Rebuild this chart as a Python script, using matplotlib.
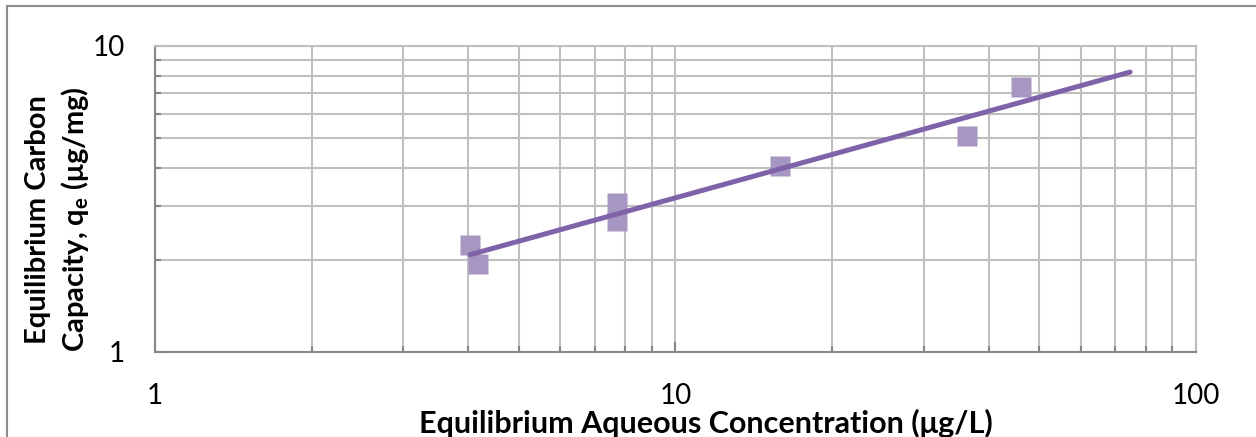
import numpy as np
import matplotlib.pyplot as plt
from matplotlib.lines import Line2D
from matplotlib.ticker import LogLocator, NullFormatter, FixedLocator, FixedFormatter

plt.rcParams["font.family"] = ["Lato", "DejaVu Sans"]
plt.rcParams["mathtext.fontset"] = "custom"
plt.rcParams["mathtext.rm"] = "Lato"
plt.rcParams["mathtext.bf"] = "Lato:bold"

# isotherm measurements
conc = [4.03, 4.17, 7.72, 7.72, 15.9, 36.3, 46.1]       # ug/L
capacity = [2.23, 1.94, 3.08, 2.67, 4.04, 5.07, 7.34]   # ug/mg

# power-law trendline end points
trend_x = [4.03, 74.7]
trend_y = [2.08, 8.22]

marker_col = "#A597C1"
line_col = "#7F62A8"
grid_col = "#BFBFBF"
spine_col = "#878787"

fig = plt.figure(figsize=(12.56, 4.37), dpi=100)
ax = fig.add_axes([155 / 1256, 1 - 352 / 437, (1196 - 155) / 1256, (352 - 46) / 437])

ax.set_xscale("log")
ax.set_yscale("log")
ax.set_xlim(1, 100)
ax.set_ylim(1, 10)

ax.plot(conc, capacity, "s", ms=14.5, color=marker_col, mec="none", zorder=3)
ax.plot(trend_x, trend_y, "-", lw=3.6, color=line_col, solid_capstyle="round", zorder=4)

ax.xaxis.set_major_locator(FixedLocator([1, 10, 100]))
ax.xaxis.set_major_formatter(FixedFormatter(["1", "10", "100"]))
ax.yaxis.set_major_locator(FixedLocator([1, 10]))
ax.yaxis.set_major_formatter(FixedFormatter(["1", "10"]))
ax.xaxis.set_minor_locator(LogLocator(base=10, subs=np.arange(2, 10)))
ax.yaxis.set_minor_locator(LogLocator(base=10, subs=np.arange(2, 10)))
ax.xaxis.set_minor_formatter(NullFormatter())
ax.yaxis.set_minor_formatter(NullFormatter())

ax.grid(True, which="both", color=grid_col, lw=1.5)
ax.set_axisbelow(True)

ax.tick_params(which="major", direction="in", length=7, width=1.5, color=spine_col,
               labelsize=20, pad=22)
ax.tick_params(which="minor", direction="in", length=4, width=1.5, color=spine_col)
ax.tick_params(axis="x", which="major", pad=22)

for side in ["top", "right"]:
    ax.spines[side].set_color(grid_col)
    ax.spines[side].set_linewidth(1.5)
for side in ["left", "bottom"]:
    ax.spines[side].set_color(spine_col)
    ax.spines[side].set_linewidth(1.5)

fig.text(706 / 1256, 1 - 423 / 437, "Equilibrium Aqueous Concentration (μg/L)",
         ha="center", va="center", fontsize=22, fontweight="bold")
fig.text(38 / 1256, 1 - 220 / 437, "Equilibrium Carbon",
         ha="center", va="center", rotation=90, fontsize=21, fontweight="bold")
fig.text(75 / 1256, 1 - 219 / 437, r"Capacity, q$_\mathbf{e}$ (μg/mg)",
         ha="center", va="center", rotation=90, fontsize=21, fontweight="bold")

# chart area outline
fig.add_artist(Line2D([7 / 1256, 7 / 1256], [0, 1 - 6 / 437], color="#8C8C8C", lw=1.5,
                      transform=fig.transFigure))
fig.add_artist(Line2D([7 / 1256, 1], [1 - 6 / 437, 1 - 6 / 437], color="#8C8C8C", lw=1.5,
                      transform=fig.transFigure))

fig.savefig("out.png", dpi=100, facecolor="white")
